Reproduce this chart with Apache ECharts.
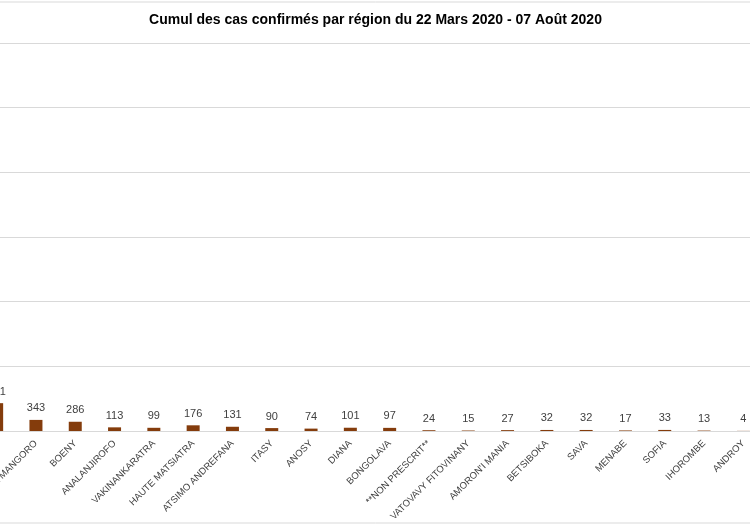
<!DOCTYPE html>
<html>
<head>
<meta charset="utf-8">
<script src="https://cdn.jsdelivr.net/npm/echarts@6/dist/echarts.min.js"></script>
<style>
  html, body { margin: 0; padding: 0; background: #fff; overflow: hidden; }
  /* le graphique est plus large que la fenêtre : la première barre est coupée à gauche */
  #main { width: 797px; height: 527px; margin-left: -23.5px; }
</style>
</head>
<body>
<div id="main"></div>
<script>
// données
let regions = ["ATSINANANA", "ALAOTRA MANGORO", "BOENY", "ANALANJIROFO", "VAKINANKARATRA",
    "HAUTE MATSIATRA", "ATSIMO ANDREFANA", "ITASY", "ANOSY", "DIANA", "BONGOLAVA",
    "**NON PRESCRIT**", "VATOVAVY FITOVINANY", "AMORON'I MANIA", "BETSIBOKA", "SAVA",
    "MENABE", "SOFIA", "IHOROMBE", "ANDROY"]
let cas = [861, 343, 286, 113, 99, 176, 131, 90, 74, 101, 97, 24, 15, 27, 32, 32, 17, 33, 13, 4]
let yTicks = [0, 2000, 4000, 6000, 8000, 10000, 12000]

let myChart = echarts.init(document.getElementById('main'))
let option = {
    animation: false,
    title: {
        text: 'Cumul des cas confirmés par région du 22 Mars 2020 - 07 Août 2020',
        left: 'center',
        top: 8,
        textStyle: {
            fontFamily: 'Liberation Sans',
            fontSize: 14,
            fontWeight: 'bold',
            color: '#000'
        }
    },
    grid: {
        left: 0,
        right: 11,
        top: 43,
        bottom: 96,
        containLabel: false,
        outerBoundsMode: 'none'
    },
    xAxis: {
        type: 'category',
        data: regions,
        axisLine: { lineStyle: { color: '#d9d9d9' } },
        axisTick: { show: false },
        axisLabel: {
            interval: 0,
            rotate: 45,
            margin: 11,
            fontFamily: 'Liberation Sans',
            fontSize: 9.5,
            color: '#404040'
        }
    },
    yAxis: {
        type: 'value',
        min: yTicks[0],
        max: yTicks[yTicks.length - 1],
        interval: yTicks[1] - yTicks[0],
        axisLabel: { show: false },
        axisLine: { show: false },
        axisTick: { show: false },
        splitLine: { lineStyle: { color: '#d9d9d9' } }
    },
    graphic: [
        { type: 'line', shape: { x1: 0, y1: 2, x2: 797, y2: 2 }, style: { stroke: '#d9d9d9', lineWidth: 1 } },
        { type: 'line', shape: { x1: 0, y1: 523, x2: 797, y2: 523 }, style: { stroke: '#d9d9d9', lineWidth: 1 } }
    ],
    series: [{
        type: 'bar',
        data: cas,
        barWidth: 13,
        itemStyle: { color: '#843c0c' },
        label: {
            show: true,
            position: 'top',
            distance: 6,
            fontFamily: 'Liberation Sans',
            fontSize: 11,
            color: '#404040'
        }
    }]
}
myChart.setOption(option)
</script>
</body>
</html>
